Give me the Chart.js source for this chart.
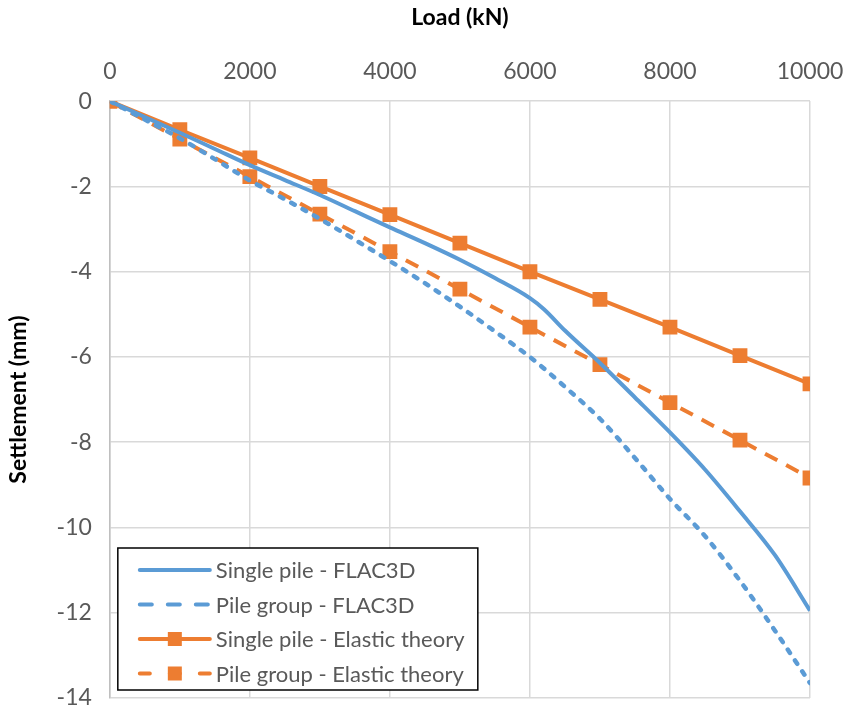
<!DOCTYPE html>
<html>
<head>
<meta charset="utf-8">
<script src="https://cdn.jsdelivr.net/npm/chart.js@4"></script>
<style>
  html, body { margin: 0; padding: 0; background: #fff; }
  #wrap { width: 845px; height: 710px; position: relative; }
</style>
</head>
<body>
<div id="wrap"><canvas id="chart"></canvas></div>
<script>
// --- Data ---
const loadFine = [0, 500, 1000, 1500, 2000, 2500, 3000, 3500, 4000, 4500, 5000, 5500, 6000, 6200, 6500, 7000, 7500, 8000, 8500, 9000, 9500, 10000];
const singleFlac = [0, -0.37, -0.74, -1.12, -1.5, -1.85, -2.2, -2.58, -2.96, -3.33, -3.72, -4.15, -4.62, -4.88, -5.38, -6.14, -6.95, -7.77, -8.64, -9.62, -10.65, -11.95];
const groupFlac = [0, -0.43, -0.87, -1.36, -1.86, -2.3, -2.76, -3.25, -3.75, -4.27, -4.82, -5.4, -6.0, -6.27, -6.7, -7.45, -8.37, -9.33, -10.2, -11.25, -12.42, -13.65];

const loadElastic = [0, 1000, 2000, 3000, 4000, 5000, 6000, 7000, 8000, 9000, 10000];
const singleElastic = [0, -0.67, -1.33, -2.0, -2.66, -3.33, -4.0, -4.65, -5.3, -5.97, -6.63];
const groupElastic = [0, -0.89, -1.77, -2.65, -3.53, -4.41, -5.3, -6.18, -7.07, -7.95, -8.84];

const xTicks = [0, 2000, 4000, 6000, 8000, 10000];
const yTicks = [0, -2, -4, -6, -8, -10, -12, -14];

const BLUE = '#5B9BD5';
const ORANGE = '#ED7D31';
const FONT = 'Lato, "Open Sans", sans-serif';

const pts = (xs, ys) => xs.map((x, i) => ({ x: x, y: ys[i] }));

// legend drawn inside the plot, bottom-left like the original
const insideLegend = {
  id: 'insideLegend',
  afterDraw(chart) {
    const ctx = chart.ctx;
    const a = chart.chartArea;
    const bx = a.left + 8, by = a.bottom - 150, bw = 360, bh = 142;
    ctx.save();
    ctx.fillStyle = '#fff';
    ctx.fillRect(bx, by, bw, bh);
    ctx.strokeStyle = '#000';
    ctx.lineWidth = 1.5;
    ctx.strokeRect(bx, by, bw, bh);
    ctx.font = '22px ' + FONT;
    ctx.textBaseline = 'middle';
    chart.data.datasets.forEach((ds, i) => {
      const y = by + 22 + i * 34.5;
      const x0 = bx + 22, x1 = bx + 92;
      ctx.strokeStyle = ds.borderColor;
      ctx.lineWidth = 4;
      ctx.lineCap = 'round';
      ctx.setLineDash(ds.legendDash || []);
      ctx.beginPath();
      ctx.moveTo(x0, y);
      ctx.lineTo(x1, y);
      ctx.stroke();
      ctx.setLineDash([]);
      if (ds.pointRadius > 0) {
        ctx.fillStyle = ds.borderColor;
        ctx.fillRect((x0 + x1) / 2 - 7, y - 7, 14, 14);
      }
      ctx.fillStyle = '#595959';
      ctx.fillText(ds.label, x1 + 6, y + 1);
    });
    ctx.restore();
  }
};

new Chart(document.getElementById('chart'), {
  type: 'scatter',
  data: {
    datasets: [
      {
        label: 'Single pile - FLAC3D',
        data: pts(loadFine, singleFlac),
        showLine: true,
        borderColor: BLUE,
        backgroundColor: BLUE,
        borderWidth: 4,
        cubicInterpolationMode: 'monotone',
        pointRadius: 0,
        legendDash: []
      },
      {
        label: 'Pile group - FLAC3D',
        data: pts(loadFine, groupFlac),
        showLine: true,
        borderColor: BLUE,
        backgroundColor: BLUE,
        borderWidth: 4.5,
        borderDash: [4, 9],
        borderCapStyle: 'round',
        cubicInterpolationMode: 'monotone',
        pointRadius: 0,
        legendDash: [12, 16]
      },
      {
        label: 'Single pile - Elastic theory',
        data: pts(loadElastic, singleElastic),
        showLine: true,
        borderColor: ORANGE,
        backgroundColor: ORANGE,
        borderWidth: 4,
        pointStyle: 'rect',
        pointRadius: 10.5,
        pointBorderWidth: 0,
        legendDash: []
      },
      {
        label: 'Pile group - Elastic theory',
        data: pts(loadElastic, groupElastic),
        showLine: true,
        borderColor: ORANGE,
        backgroundColor: ORANGE,
        borderWidth: 4,
        borderDash: [14, 10],
        pointStyle: 'rect',
        pointRadius: 10.5,
        pointBorderWidth: 0,
        legendDash: [10, 20]
      }
    ]
  },
  options: {
    responsive: true,
    maintainAspectRatio: false,
    animation: false,
    layout: { padding: { top: 4, right: 35, bottom: 12, left: 5 } },
    plugins: {
      legend: { display: false },
      tooltip: { enabled: false }
    },
    scales: {
      x: {
        type: 'linear',
        position: 'top',
        min: 0,
        max: 10000,
        afterBuildTicks: axis => { axis.ticks = xTicks.map(v => ({ value: v })); },
        afterFit: axis => { axis.paddingLeft = 0; axis.paddingRight = 0; },
        ticks: {
          color: '#595959',
          font: { size: 23, family: FONT },
          padding: 16,
          callback: v => String(v)
        },
        grid: { color: '#D9D9D9', lineWidth: 1.5, drawTicks: false },
        border: { display: false },
        title: {
          display: true,
          text: 'Load (kN)',
          color: '#000',
          font: { size: 23, weight: 'bold', family: FONT },
          padding: { top: 0, bottom: 10 }
        }
      },
      y: {
        type: 'linear',
        min: -14,
        max: 0,
        afterBuildTicks: axis => { axis.ticks = yTicks.map(v => ({ value: v })); },
        afterFit: axis => { axis.paddingTop = 0; axis.paddingBottom = 0; },
        ticks: {
          color: '#595959',
          font: { size: 23, family: FONT },
          padding: 18,
          callback: v => String(v)
        },
        grid: { color: '#D9D9D9', lineWidth: 1.5, drawTicks: false },
        border: { color: '#BFBFBF', width: 1.5 },
        title: {
          display: true,
          text: 'Settlement (mm)',
          color: '#000',
          font: { size: 23, weight: 'bold', family: FONT },
          padding: { top: 0, bottom: 6 }
        }
      }
    }
  },
  plugins: [insideLegend]
});
</script>
</body>
</html>
